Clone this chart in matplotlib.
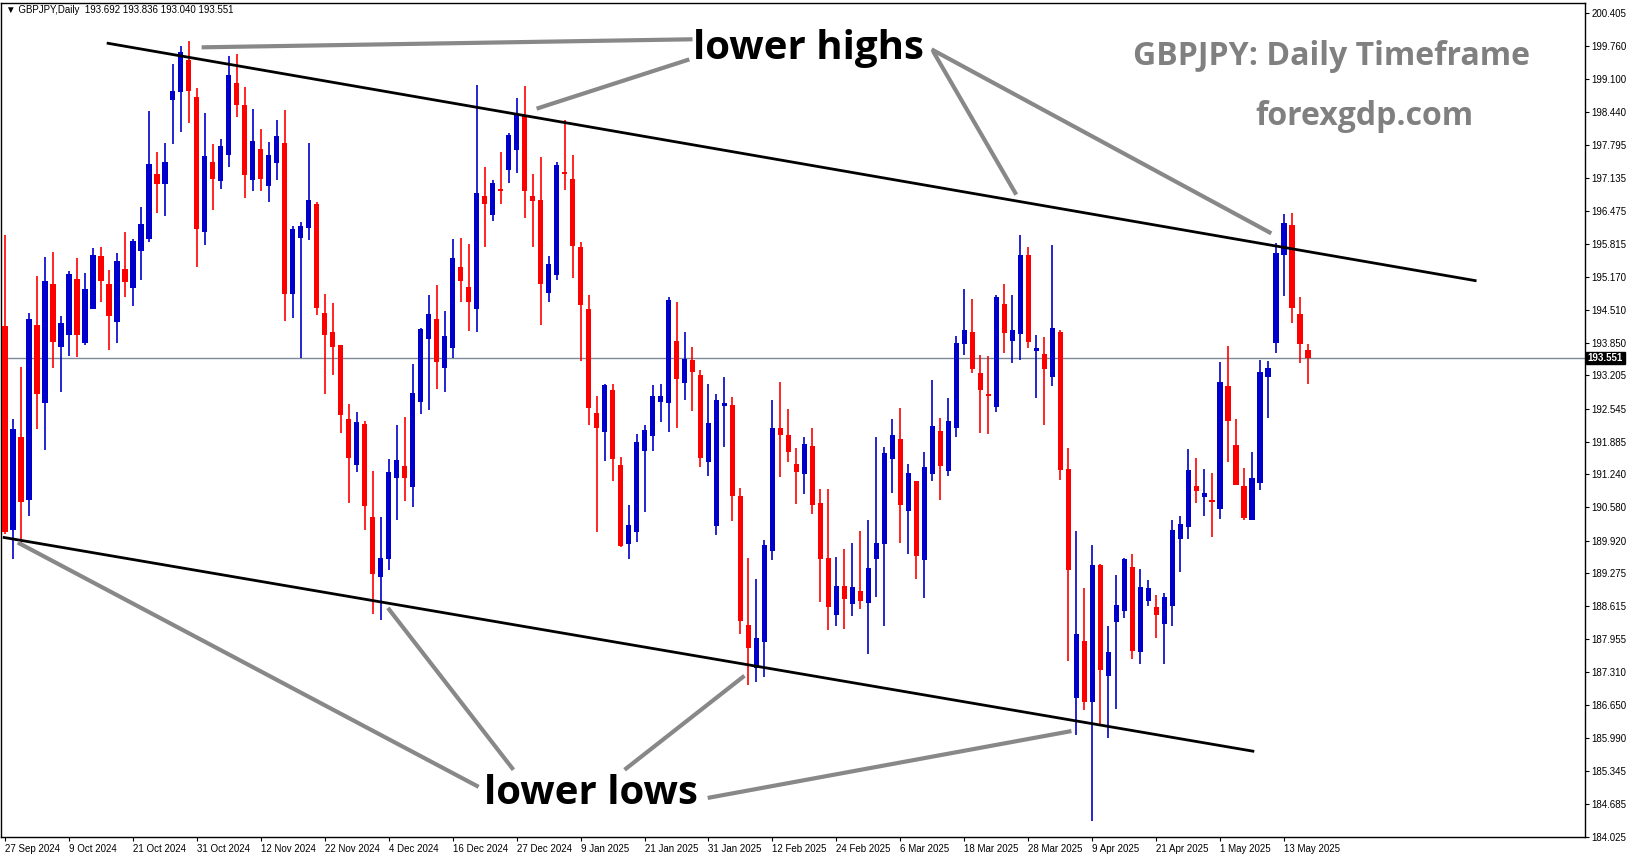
import numpy as np
import matplotlib
matplotlib.use("Agg")
import matplotlib.pyplot as plt

# daily GBPJPY candles (open, high, low, close)
opens = [194.18, 190.13, 191.97, 190.72, 194.20, 192.65, 195.01, 193.76, 194.00, 195.11,
         193.84, 194.53, 195.56, 195.02, 194.26, 195.31, 194.94, 195.67, 195.91, 197.20,
         197.02, 198.68, 198.84, 199.47, 198.74, 196.06, 197.43, 197.07, 197.58, 199.01,
         198.58, 197.09, 197.70, 196.97, 197.43, 197.82, 194.82, 195.94, 196.13, 196.60,
         194.43, 194.05, 193.79, 192.32, 191.43, 192.22, 190.38, 189.19, 189.55, 191.17,
         191.40, 190.99, 192.68, 193.92, 194.32, 193.35, 193.75, 195.35, 194.95, 194.52,
         196.76, 196.39, 196.90, 197.29, 197.69, 198.36, 196.77, 196.69, 194.84, 195.20,
         197.25, 197.10, 195.75, 194.52, 192.45, 192.08, 192.91, 191.42, 189.86, 190.09,
         191.71, 191.99, 192.67, 192.65, 193.88, 193.05, 193.50, 193.20, 191.48, 190.21,
         192.59, 192.61, 190.80, 188.23, 187.39, 187.90, 189.72, 192.15, 192.01, 191.43,
         191.24, 191.79, 190.66, 189.56, 188.43, 189.00, 188.66, 188.91, 188.68, 189.56,
         189.86, 191.55, 191.92, 190.50, 191.09, 189.54, 191.25, 192.08, 191.31, 192.15,
         193.82, 194.06, 193.24, 192.83, 192.57, 194.61, 193.88, 194.02, 195.59, 193.69,
         193.62, 193.17, 194.06, 191.33, 186.78, 187.91, 186.70, 189.42, 187.22, 188.30,
         188.52, 189.38, 187.70, 188.71, 188.59, 188.26, 188.62, 189.95, 190.19, 190.99,
         190.78, 190.72, 190.54, 192.98, 191.81, 190.99, 190.33, 191.06, 193.18, 193.85,
         195.60, 196.19, 194.42, 193.692]
highs = [195.99, 192.33, 193.37, 194.45, 195.19, 195.56, 195.65, 194.39, 195.28, 195.53,
         195.25, 195.73, 195.76, 195.31, 195.63, 196.06, 195.92, 196.55, 198.47, 197.65,
         197.82, 199.40, 199.75, 199.85, 198.93, 198.42, 197.80, 197.90, 199.56, 199.59,
         198.95, 198.50, 198.10, 197.84, 198.28, 198.48, 196.17, 196.25, 197.82, 196.66,
         194.82, 194.65, 193.81, 192.64, 192.47, 192.30, 191.30, 190.38, 191.54, 192.22,
         192.38, 193.43, 194.14, 194.81, 195.01, 194.48, 195.91, 195.93, 195.81, 198.99,
         197.34, 197.10, 197.64, 198.03, 198.73, 198.97, 197.22, 197.54, 195.57, 197.44,
         198.28, 197.58, 195.85, 194.80, 192.79, 193.03, 193.03, 191.58, 190.62, 192.03,
         192.21, 193.02, 193.04, 194.77, 194.67, 194.06, 193.77, 193.32, 193.04, 192.84,
         193.18, 192.78, 190.97, 189.58, 189.16, 189.94, 192.71, 193.08, 192.53, 191.77,
         191.97, 192.15, 190.95, 190.95, 189.60, 189.76, 189.87, 190.11, 190.33, 191.98,
         191.78, 192.34, 192.56, 191.44, 191.11, 191.68, 193.12, 192.36, 192.76, 193.98,
         194.93, 194.73, 193.62, 193.59, 194.80, 195.03, 194.81, 196.00, 195.75, 194.01,
         193.96, 195.79, 194.10, 191.77, 190.10, 188.97, 189.84, 189.46, 188.21, 189.23,
         189.58, 189.66, 189.36, 189.14, 188.84, 188.88, 190.32, 190.40, 191.75, 191.57,
         191.35, 191.27, 193.48, 193.78, 192.33, 191.37, 191.69, 193.52, 193.50, 195.83,
         196.41, 196.43, 194.76, 193.836]
lows = [190.05, 189.56, 189.88, 190.41, 192.13, 191.73, 193.35, 192.88, 193.60, 193.57,
        193.80, 194.53, 194.66, 193.70, 193.84, 194.76, 194.58, 195.10, 195.86, 196.43,
        196.38, 197.80, 198.05, 198.22, 195.37, 195.79, 196.50, 196.92, 197.35, 198.34,
        196.74, 196.88, 196.88, 196.66, 197.09, 194.29, 194.35, 193.56, 195.90, 194.40,
        192.83, 193.22, 192.05, 190.67, 191.29, 190.12, 188.46, 188.33, 189.33, 190.33,
        190.71, 190.59, 192.44, 192.52, 192.93, 192.87, 193.55, 194.66, 194.09, 194.07,
        195.76, 196.27, 196.61, 197.03, 197.23, 196.33, 195.76, 194.20, 194.66, 195.10,
        196.89, 195.14, 193.49, 192.22, 190.09, 191.50, 191.10, 189.79, 189.55, 189.89,
        190.48, 191.71, 192.27, 192.08, 192.15, 192.71, 192.49, 191.38, 191.20, 190.03,
        191.78, 190.31, 188.06, 187.05, 187.10, 187.20, 189.53, 191.18, 191.48, 190.64,
        190.84, 190.44, 188.69, 188.14, 188.22, 188.16, 188.41, 188.55, 187.67, 188.80,
        188.22, 190.87, 189.87, 189.66, 189.16, 188.78, 191.10, 190.73, 191.21, 191.97,
        193.62, 193.25, 192.05, 192.03, 192.47, 193.65, 193.46, 193.51, 193.74, 192.75,
        192.21, 192.99, 191.13, 187.52, 186.05, 186.54, 184.35, 186.25, 186.00, 186.57,
        188.38, 187.57, 187.47, 188.61, 187.99, 187.47, 188.22, 189.29, 189.95, 190.66,
        190.40, 189.99, 190.35, 191.48, 191.02, 190.33, 190.33, 190.92, 192.35, 193.65,
        194.79, 194.24, 193.45, 193.040]
closes = [190.09, 192.12, 190.69, 194.32, 192.84, 195.07, 193.86, 194.23, 195.21, 194.01,
          194.91, 195.59, 195.09, 194.38, 195.47, 195.07, 195.86, 196.20, 197.40, 197.02,
          197.44, 198.85, 199.63, 198.86, 196.11, 197.56, 197.11, 197.76, 199.17, 198.58,
          197.20, 197.85, 197.11, 197.58, 197.96, 194.82, 196.10, 196.16, 196.68, 194.55,
          194.00, 193.76, 192.42, 191.56, 192.26, 190.61, 189.25, 189.57, 191.28, 191.52,
          191.17, 192.84, 194.11, 194.41, 193.47, 193.98, 195.53, 195.08, 194.66, 196.82,
          196.61, 197.02, 196.88, 197.98, 198.38, 196.87, 196.67, 195.02, 195.41, 197.38,
          197.22, 195.78, 194.60, 192.55, 192.16, 193.01, 191.55, 189.82, 190.22, 191.87,
          192.11, 192.79, 192.79, 194.69, 193.13, 193.52, 193.27, 191.56, 192.25, 192.71,
          192.65, 190.80, 188.32, 187.79, 187.97, 189.82, 192.15, 192.02, 191.68, 191.28,
          191.83, 190.62, 189.55, 188.59, 189.00, 188.75, 188.99, 188.71, 189.37, 189.87,
          191.66, 192.00, 190.62, 191.26, 189.62, 191.37, 192.18, 191.41, 192.28, 193.84,
          194.10, 193.34, 192.91, 192.80, 194.75, 194.04, 194.10, 195.59, 193.86, 193.73,
          193.34, 194.13, 191.33, 189.33, 188.05, 186.70, 189.42, 187.34, 187.69, 188.63,
          189.54, 187.72, 188.99, 188.97, 188.44, 188.79, 190.12, 190.24, 191.31, 190.90,
          190.85, 190.69, 193.06, 192.29, 191.03, 190.36, 191.15, 193.26, 193.34, 195.63,
          196.23, 194.55, 193.83, 193.551]

date_labels = ["27 Sep 2024", "9 Oct 2024", "21 Oct 2024", "31 Oct 2024", "12 Nov 2024",
               "22 Nov 2024", "4 Dec 2024", "16 Dec 2024", "27 Dec 2024", "9 Jan 2025",
               "21 Jan 2025", "31 Jan 2025", "12 Feb 2025", "24 Feb 2025", "6 Mar 2025",
               "18 Mar 2025", "28 Mar 2025", "9 Apr 2025", "21 Apr 2025", "1 May 2025",
               "13 May 2025"]
price_ticks = [200.405, 199.760, 199.100, 198.440, 197.795, 197.135, 196.475, 195.815,
               195.170, 194.510, 193.850, 193.205, 192.545, 191.885, 191.240, 190.580,
               189.920, 189.275, 188.615, 187.955, 187.310, 186.650, 185.990, 185.345,
               184.685, 184.025]
last_price = 193.551

o = np.array(opens); h = np.array(highs); l = np.array(lows); c = np.array(closes)
idx = np.arange(len(o))
up = c >= o
BLUE = "#0000CC"
RED = "#FF0000"
small = "Liberation Sans"

fig = plt.figure(figsize=(16.31, 8.61), dpi=100)
ax = fig.add_axes([0.0006, 0.028, 0.971, 0.969])

cols = np.where(up, BLUE, RED)
ax.vlines(idx, l, h, colors=cols, lw=1.2, zorder=3)
ax.bar(idx, np.abs(c - o) + 0.01, bottom=np.minimum(o, c), width=0.66,
       color=cols, edgecolor=cols, lw=0, zorder=4)

ax.axhline(last_price, color="#7f8a99", lw=1, zorder=2)

# channel lines
ax.plot([12.9, 183.9], [199.81, 195.09], color="black", lw=2, zorder=5)
ax.plot([-0.1, 156.1], [189.98, 185.73], color="black", lw=2, zorder=5)

# pointer lines
gray = "#888888"
for (x0, y0), (x1, y1) in [((24.6, 199.73), (86.0, 199.89)),
                           ((66.5, 198.51), (85.6, 199.49)),
                           ((116.1, 199.65), (126.5, 196.80)),
                           ((115.9, 199.69), (158.4, 196.03)),
                           ((1.6, 189.88), (59.25, 185.02)),
                           ((47.9, 188.58), (63.6, 185.36)),
                           ((77.5, 185.36), (92.5, 187.23)),
                           ((87.9, 184.80), (133.4, 186.13))]:
    ax.plot([x0, x1], [y0, y1], color=gray, lw=3, zorder=6, solid_capstyle="butt")

ax.text(100.5, 199.71, "lower highs", fontsize=29, family="Open Sans", weight="bold",
        ha="center", va="center", zorder=7)
ax.text(73.25, 184.88, "lower lows", fontsize=29, family="Open Sans", weight="bold",
        ha="center", va="center", zorder=7)
ax.text(165.9, 199.55, "GBPJPY: Daily Timeframe", fontsize=23, family="Open Sans",
        weight="bold", color="#808080", ha="center", va="center")
ax.text(170.1, 198.35, "forexgdp.com", fontsize=23, family="Open Sans",
        weight="bold", color="#808080", ha="center", va="center")
ax.text(0.003, 0.997, "\u25bc GBPJPY,Daily  193.692 193.836 193.040 193.551",
        transform=ax.transAxes, fontsize=7, family=[small, "DejaVu Sans"],
        va="top", ha="left")

ax.set_xlim(-0.5, 197.6)
ax.set_ylim(184.025, 200.62)
ax.yaxis.tick_right()
ax.set_yticks(price_ticks)
ax.set_yticklabels([f"{p:.3f}" for p in price_ticks], fontsize=7, family=small)
ax.set_xticks(np.arange(len(date_labels)) * 8)
ax.set_xticklabels(date_labels, fontsize=7, ha="left", family=small)
ax.tick_params(axis="both", length=3, width=0.8, pad=2)
for s in ax.spines.values():
    s.set_linewidth(1)

ax.text(1.002, last_price, f"{last_price:.3f}", transform=ax.get_yaxis_transform(),
        fontsize=7, family=small, color="white", va="center", ha="left", weight="bold",
        bbox=dict(boxstyle="square,pad=0.15", fc="black", ec="black"), zorder=10,
        clip_on=False)

fig.savefig("out.png", dpi=100, facecolor="white")
